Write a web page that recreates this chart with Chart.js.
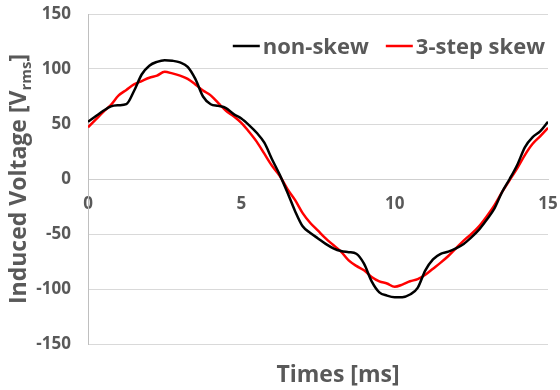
<!DOCTYPE html>
<html>
<head>
<meta charset="utf-8">
<script src="https://cdn.jsdelivr.net/npm/chart.js@4.4.1/dist/chart.umd.min.js"></script>
<style>
  html, body { margin: 0; padding: 0; background: #fff; }
  #wrap { width: 560px; height: 390px; }
</style>
</head>
<body>
<div id="wrap"><canvas id="chart" width="560" height="390"></canvas></div>
<script>
// time axis [ms]
const times = [
  0, 0.25, 0.5, 0.75, 1, 1.25, 1.5, 1.75, 2, 2.25, 2.5, 2.75, 3, 3.25, 3.5, 3.75,
  4, 4.25, 4.5, 4.75, 5, 5.25, 5.5, 5.75, 6, 6.25, 6.5, 6.75, 7, 7.25, 7.5, 7.75,
  8, 8.25, 8.5, 8.75, 9, 9.25, 9.5, 9.75, 10, 10.25, 10.5, 10.75, 11, 11.25, 11.5, 11.75,
  12, 12.25, 12.5, 12.75, 13, 13.25, 13.5, 13.75, 14, 14.25, 14.5, 14.75, 15
];

// induced voltage, non-skew rotor
const nonSkew = [
  52, 57, 62, 66, 67, 68, 80, 95, 103, 106.5, 108, 107.5, 106, 102, 91, 75,
  68, 66.5, 64.5, 59, 55, 49, 42, 33, 18, 4, -12, -29, -43, -49, -54, -59,
  -63, -65.5, -66.5, -68, -77, -93, -103, -106, -107.5, -107.4, -105, -99, -83, -73, -68, -66,
  -63, -59, -53, -46, -37, -27, -12, 0, 13, 29, 38, 43.5, 52
];

// induced voltage, 3-step skew rotor
const skew3 = [
  47, 54, 61, 67.5, 76, 81, 86, 89, 92, 94, 97.5, 96, 94, 91, 86, 80.5,
  76, 69, 62, 57, 51, 43, 34, 23, 12, 3, -9, -19, -31, -40, -47, -54,
  -60, -66, -74, -79, -83, -89, -93, -95, -98, -96, -93, -91, -87, -81.5, -76, -70,
  -63, -56, -50, -43, -34, -24, -12, -1, 10, 22, 32, 39, 46.5
];

const seriesNames = ['non-skew', '3-step skew'];
const yTicks = { min: -150, max: 150, step: 50 };
const xTicks = { min: 0, max: 15, step: 5 };

const textGray = '#595959';
const fontFamily = '"Open Sans", "Liberation Sans", sans-serif';

function toPoints(values) {
  return times.map((t, i) => ({ x: t, y: values[i] }));
}

// axis titles and in-plot legend, drawn after the chart
const decorations = {
  id: 'decorations',
  afterDraw(chart) {
    const { ctx, chartArea } = chart;
    ctx.save();
    ctx.fillStyle = textGray;

    // x title
    ctx.font = 'bold 23px ' + fontFamily;
    ctx.textAlign = 'center';
    ctx.textBaseline = 'alphabetic';
    ctx.fillText('Times [ms]', (chartArea.left + chartArea.right) / 2 + 20, 382);

    // y title with subscript
    const main = 'Induced Voltage [V';
    const sub = 'rms';
    const tail = ']';
    const mainFont = 'bold 23px ' + fontFamily;
    const subFont = 'bold 15px ' + fontFamily;
    ctx.font = mainFont;
    const w1 = ctx.measureText(main).width;
    const w3 = ctx.measureText(tail).width;
    ctx.font = subFont;
    const w2 = ctx.measureText(sub).width;
    const total = w1 + w2 + w3;
    ctx.translate(26, (chartArea.top + chartArea.bottom) / 2);
    ctx.rotate(-Math.PI / 2);
    ctx.textAlign = 'left';
    let x0 = -total / 2;
    ctx.font = mainFont;
    ctx.fillText(main, x0, 0);
    ctx.font = subFont;
    ctx.fillText(sub, x0 + w1, 5);
    ctx.font = mainFont;
    ctx.fillText(tail, x0 + w1 + w2, 0);
    ctx.restore();

    // legend inside plot, top right
    ctx.save();
    ctx.font = 'bold 22px ' + fontFamily;
    ctx.textBaseline = 'alphabetic';
    ctx.textAlign = 'left';
    const lineLen = 27, gap = 3, itemGap = 17;
    const items = chart.data.datasets.map(ds => ({
      label: ds.label, color: ds.borderColor, w: ctx.measureText(ds.label).width
    }));
    const width = items.reduce((s, it) => s + lineLen + gap + it.w, 0) + itemGap * (items.length - 1);
    let x = chartArea.right - 3 - width;
    const baseY = 54;
    items.forEach(it => {
      ctx.strokeStyle = it.color;
      ctx.lineWidth = 2.5;
      ctx.beginPath();
      ctx.moveTo(x, 46);
      ctx.lineTo(x + lineLen, 46);
      ctx.stroke();
      x += lineLen + gap;
      ctx.fillStyle = textGray;
      ctx.fillText(it.label, x, baseY);
      x += it.w + itemGap;
    });
    ctx.restore();
  }
};

new Chart(document.getElementById('chart'), {
  type: 'line',
  data: {
    datasets: [
      {
        label: seriesNames[0],
        data: toPoints(nonSkew),
        borderColor: '#000000',
        backgroundColor: '#000000',
        borderWidth: 2.5,
        pointRadius: 0,
        cubicInterpolationMode: 'monotone'
      },
      {
        label: seriesNames[1],
        data: toPoints(skew3),
        borderColor: '#ff0000',
        backgroundColor: '#ff0000',
        borderWidth: 2.5,
        pointRadius: 0,
        cubicInterpolationMode: 'monotone'
      }
    ]
  },
  options: {
    responsive: false,
    animation: false,
    devicePixelRatio: 1,
    layout: { padding: { top: 14, right: 12, bottom: 46, left: 0 } },
    plugins: {
      legend: { display: false },
      tooltip: { enabled: false }
    },
    scales: {
      x: {
        type: 'linear',
        position: { y: 0 },
        min: xTicks.min,
        max: xTicks.max,
        afterFit(scale) {
          scale.height = 0;
          scale.paddingLeft = 0;
          scale.paddingRight = 0;
          scale.paddingTop = 0;
          scale.paddingBottom = 0;
        },
        grid: { display: false },
        border: { display: true, color: '#cfcfcf', width: 1 },
        ticks: {
          stepSize: xTicks.step,
          padding: 7,
          color: textGray,
          font: { family: fontFamily, size: 17, weight: 'bold' }
        }
      },
      y: {
        type: 'linear',
        position: 'left',
        min: yTicks.min,
        max: yTicks.max,
        afterFit(scale) {
          scale.width = 88;
          scale.paddingTop = 0;
          scale.paddingBottom = 0;
        },
        grid: { color: '#d9d9d9', lineWidth: 1, drawTicks: false },
        border: { display: true, color: '#bfbfbf', width: 1 },
        ticks: {
          stepSize: yTicks.step,
          padding: 17,
          color: textGray,
          font: { family: fontFamily, size: 17, weight: 'bold' }
        }
      }
    }
  },
  plugins: [decorations]
});
</script>
</body>
</html>
